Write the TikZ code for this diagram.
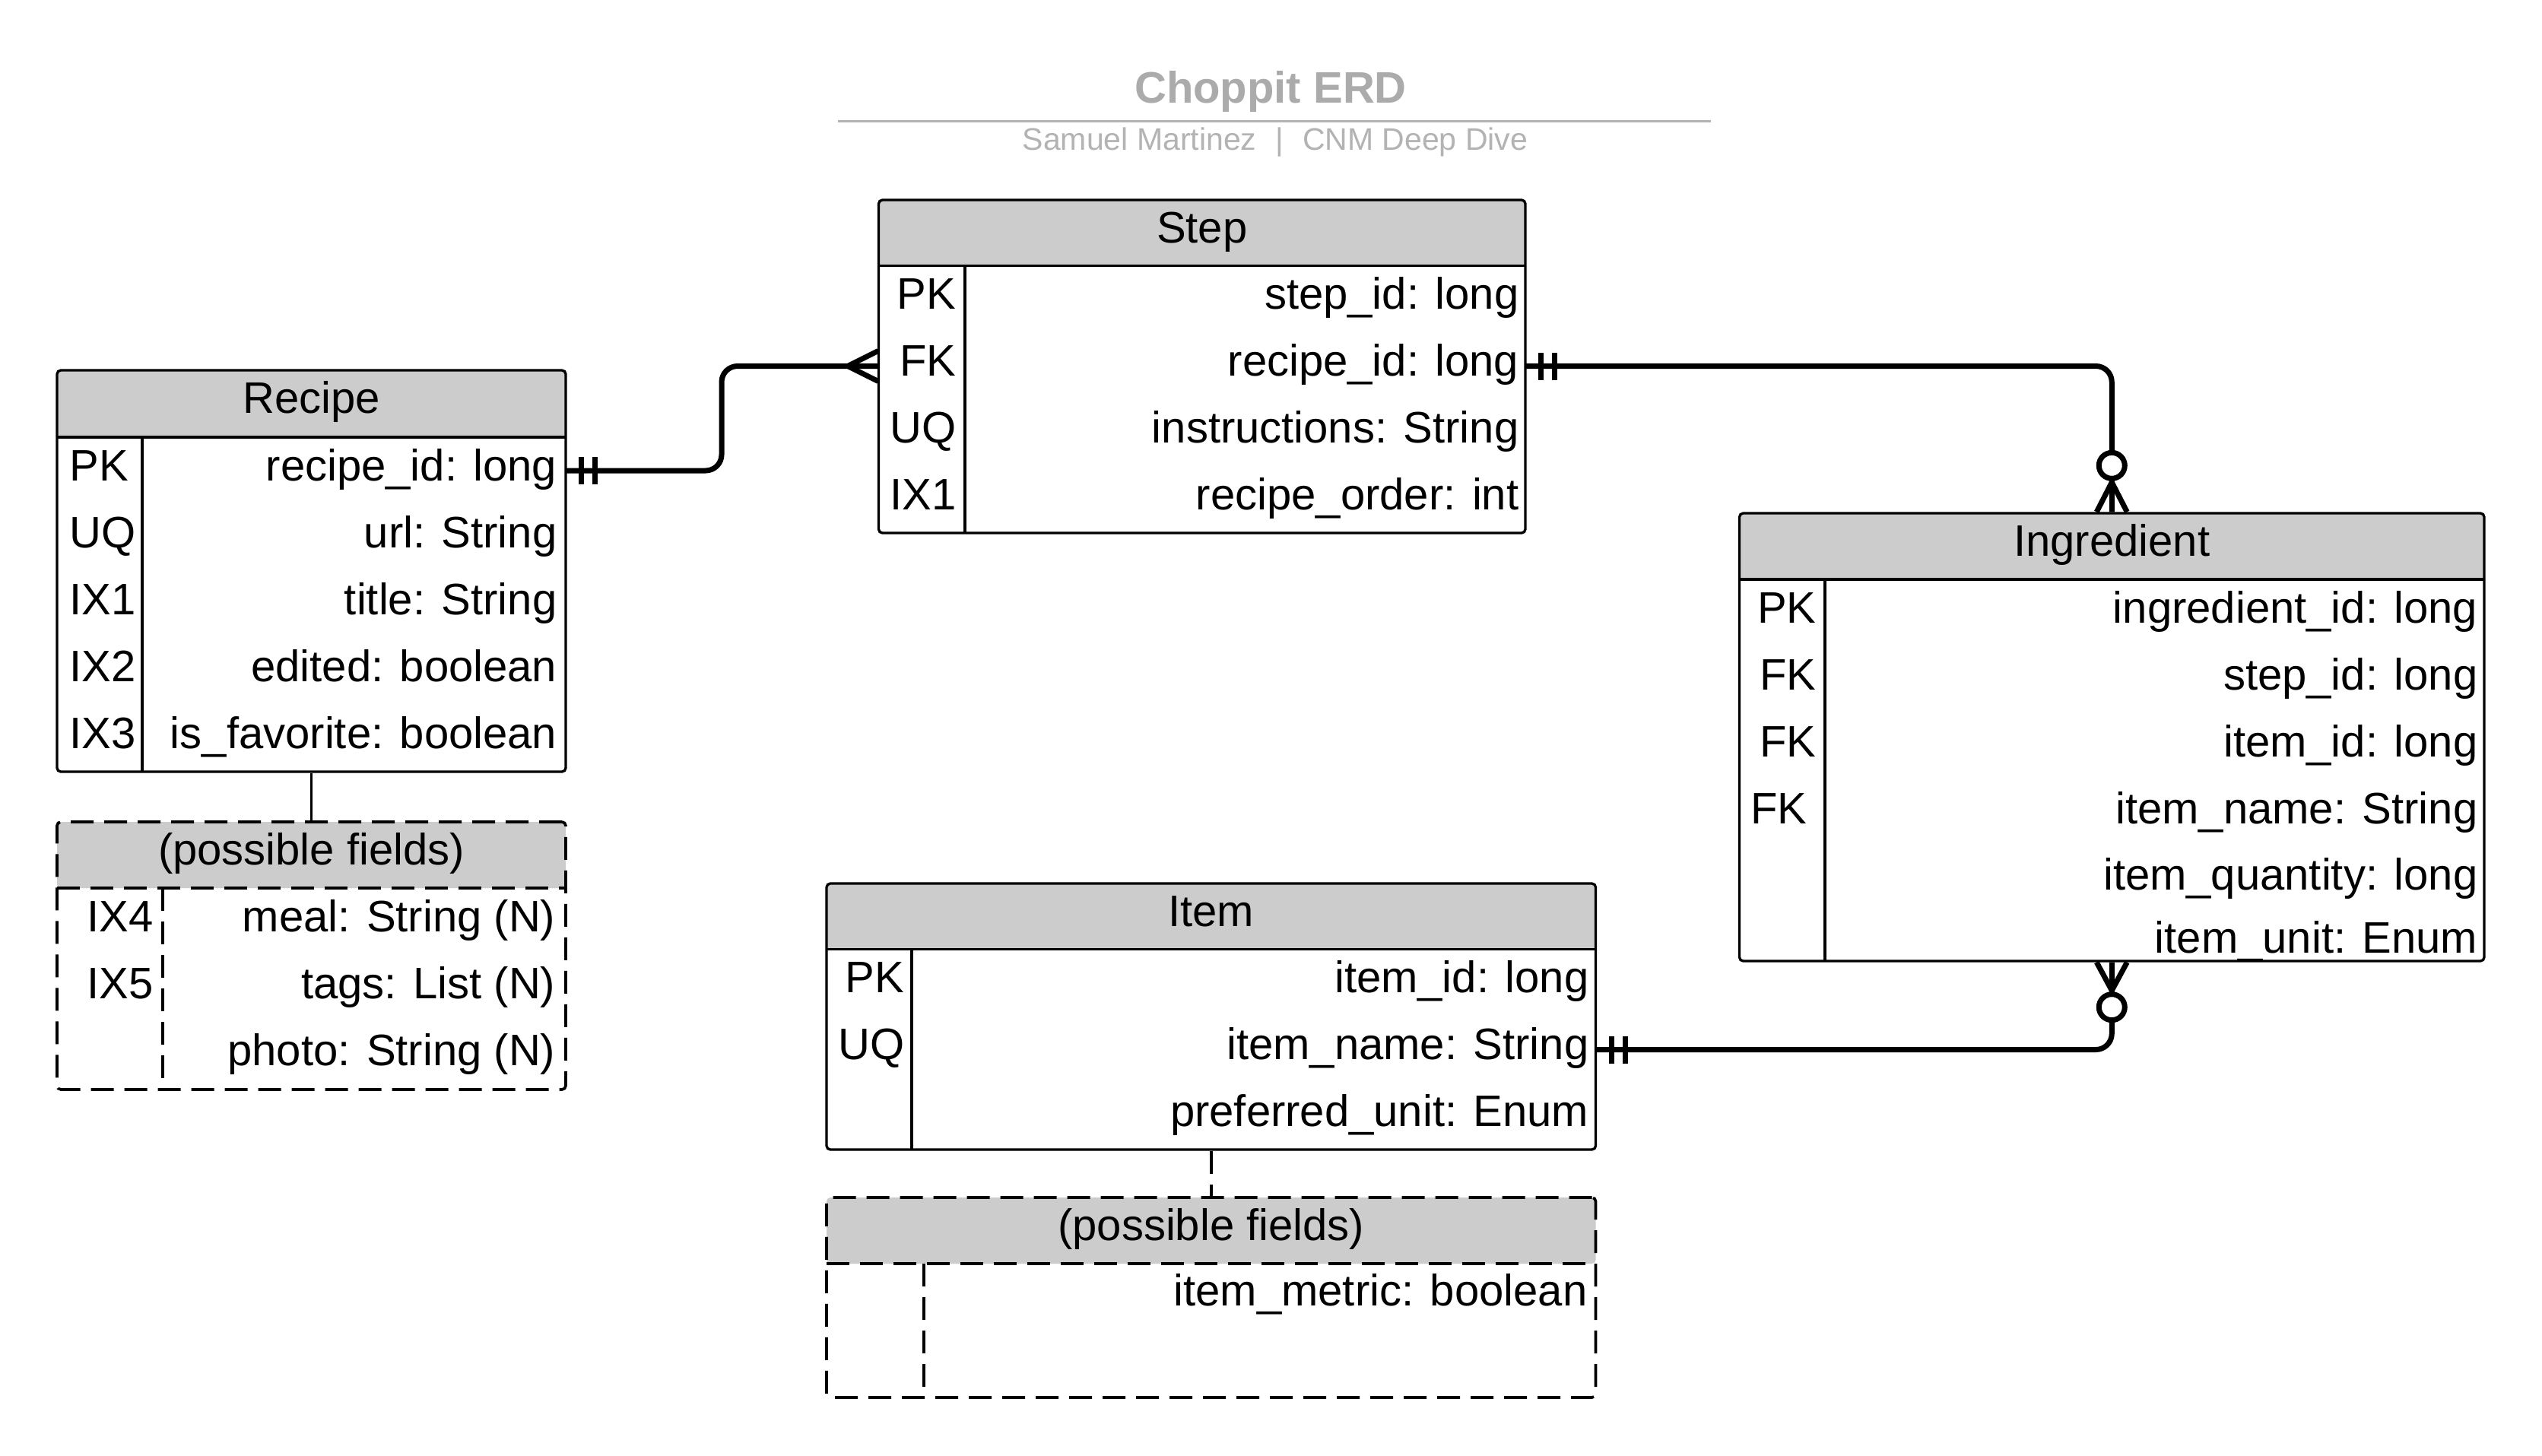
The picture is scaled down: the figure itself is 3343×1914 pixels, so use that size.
\documentclass[tikz,border=0pt]{standalone}
\usepackage{fontspec}
\setmainfont{Liberation Sans}
\usetikzlibrary{calc}
\newcommand\pxu{0.3pt}
\definecolor{hdrgray}{HTML}{CCCCCC}
\definecolor{titlegray}{HTML}{ABABAB}
\definecolor{subgray}{HTML}{B3B3B3}
\newcommand\erow[8]{%
  \node[rowbox, minimum width={(#3-#2)*\pxu}] (#1) at ({(#2+#3)/2},{#4+44}) {};
  \node[keytxt] (#1-key) at (#5,{#4+57}) {#6};
  \node[fldtxt] (#1-fld) at (#8,{#4+57}) {#7};
}
\begin{document}
\begin{tikzpicture}[x=0.3pt, y=-0.3pt,
  txt/.style={inner sep=0pt, font=\fontsize{17.4}{20}\selectfont},
  hdrtxt/.style={txt, anchor=base},
  keytxt/.style={txt, anchor=base east},
  fldtxt/.style={txt, anchor=base east},
  rowbox/.style={inner sep=0pt, minimum height={88*\pxu}},
  tbl/.style={draw, line width=1pt, rounded corners=1.5pt, inner sep=0pt},
  dtbl/.style={tbl, line width=1.1pt, dash pattern=on 9pt off 4.2pt},
  boxline/.style={line width=1pt},
  dline/.style={line width=1.1pt, dash pattern=on 9pt off 4.2pt},
  hdrfill/.style={fill=hdrgray, rounded corners=1.5pt},
  conn/.style={line width=2.1pt, rounded corners=6.3pt},
  erdmark/.style={line width=2.1pt},
  ring/.style={line width=2.1pt, fill=white},
  titletxt/.style={inner sep=0pt, anchor=base, text=titlegray, font=\fontsize{17.4}{20}\selectfont\bfseries},
  subtxt/.style={inner sep=0pt, anchor=base, text=subgray, font=\fontsize{12.3}{14}\selectfont},
  titleline/.style={draw=subgray, line width=0.9pt}
]
\fill[white] (0,0) rectangle (3343,1914);
\useasboundingbox (0,0) rectangle (3343,1914);

% ---------- title ----------
\node[titletxt] (title) at (1671,136) {Choppit ERD};
\draw[titleline] (1102,160) -- (2250,160);
\node[subtxt] (subtitle) at (1677,198) {Samuel Martinez\hspace{7.5pt}|\hspace{7.5pt}CNM Deep Dive};

% ---------- Recipe ----------
\fill[hdrfill] (75,487) rectangle (744,575);
\node[tbl, minimum width={669*\pxu}, minimum height={528*\pxu}] (recipe) at (409.5,751) {};
\draw[boxline] (75,575) -- (744,575);
\draw[boxline] (187,575) -- (187,1015);
\node[hdrtxt] (recipe-name) at (409.5,543) {Recipe};
\begin{scope}[keytxt/.append style={anchor=base west}]
\erow{recipe-pk}{75}{744}{575}{91}{PK}{recipe\_id: long}{733}
\erow{recipe-url}{75}{744}{663}{91}{UQ}{url: String}{733}
\erow{recipe-title}{75}{744}{751}{91}{IX1}{title: String}{733}
\erow{recipe-edited}{75}{744}{839}{91}{IX2}{edited: boolean}{733}
\erow{recipe-fav}{75}{744}{927}{91}{IX3}{is\_favorite: boolean}{733}
\end{scope}

% ---------- Recipe possible fields ----------
\fill[hdrfill] (75,1081) rectangle (744,1168);
\node[dtbl, minimum width={669*\pxu}, minimum height={352*\pxu}] (recipe-extra) at (409.5,1257) {};
\draw[dline] (75,1168) -- (744,1168);
\draw[dline] (214,1168) -- (214,1433);
\node[hdrtxt] (recipe-extra-name) at (409.5,1137) {(possible fields)};
\erow{recipe-meal}{75}{744}{1168}{202}{IX4}{meal: String (N)}{731}
\erow{recipe-tags}{75}{744}{1256}{202}{IX5}{tags: List (N)}{731}
\erow{recipe-photo}{75}{744}{1344}{202}{}{photo: String (N)}{731}
\draw[boxline] (recipe.south) -- (recipe-extra.north);

% ---------- Step ----------
\fill[hdrfill] (1155.5,263) rectangle (2006,349.5);
\node[tbl, minimum width={850.5*\pxu}, minimum height={438*\pxu}] (step) at (1580.75,482) {};
\draw[boxline] (1155.5,349.5) -- (2006,349.5);
\draw[boxline] (1269,349.5) -- (1269,701);
\node[hdrtxt] (step-name) at (1580.75,319) {Step};
\erow{step-pk}{1155.5}{2006}{349.5}{1258}{PK}{step\_id: long}{1998}
\erow{step-fk}{1155.5}{2006}{437.5}{1258}{FK}{recipe\_id: long}{1998}
\erow{step-uq}{1155.5}{2006}{525.5}{1258}{UQ}{instructions: String}{1998}
\erow{step-ix}{1155.5}{2006}{613.5}{1258}{IX1}{recipe\_order: int}{1998}

% ---------- Ingredient ----------
\fill[hdrfill] (2287.5,675) rectangle (3267,762);
\node[tbl, minimum width={979.5*\pxu}, minimum height={589*\pxu}] (ingredient) at (2777.25,969.5) {};
\draw[boxline] (2287.5,762) -- (3267,762);
\draw[boxline] (2400,762) -- (2400,1264);
\node[hdrtxt] (ingredient-name) at (2777.25,731) {Ingredient};
\erow{ing-pk}{2287.5}{3267}{762}{2389}{PK}{ingredient\_id: long}{3259}
\erow{ing-step}{2287.5}{3267}{850}{2389}{FK}{step\_id: long}{3259}
\erow{ing-item}{2287.5}{3267}{938}{2389}{FK}{item\_id: long}{3259}
\erow{ing-name}{2287.5}{3267}{1026}{2377}{FK}{item\_name: String}{3259}
\erow{ing-qty}{2287.5}{3267}{1113}{2389}{}{item\_quantity: long}{3259}
\erow{ing-unit}{2287.5}{3267}{1196}{2389}{}{item\_unit: Enum}{3259}

% ---------- Item ----------
\fill[hdrfill] (1087,1162) rectangle (2098.5,1248.5);
\node[tbl, minimum width={1011.5*\pxu}, minimum height={350*\pxu}] (item) at (1592.75,1337) {};
\draw[boxline] (1087,1248.5) -- (2098.5,1248.5);
\draw[boxline] (1199,1248.5) -- (1199,1512);
\node[hdrtxt] (item-name) at (1592.75,1218) {Item};
\erow{item-pk}{1087}{2098.5}{1248.5}{1190}{PK}{item\_id: long}{2090}
\erow{item-uq}{1087}{2098.5}{1336.5}{1190}{UQ}{item\_name: String}{2090}
\erow{item-unit}{1087}{2098.5}{1424.5}{1190}{}{preferred\_unit: Enum}{2090}

% ---------- Item possible fields ----------
\fill[hdrfill] (1087,1575) rectangle (2098.5,1662);
\node[dtbl, minimum width={1011.5*\pxu}, minimum height={263*\pxu}] (item-extra) at (1592.75,1706.5) {};
\draw[dline] (1087,1662) -- (2098.5,1662);
\draw[dline] (1215,1662) -- (1215,1838);
\node[hdrtxt] (item-extra-name) at (1592.75,1631) {(possible fields)};
\erow{item-metric}{1087}{2098.5}{1660}{1200}{}{item\_metric: boolean}{2088}
\draw[dline] (item.south) -- (item-extra.north);

% ---------- connectors ----------
\coordinate (bend1) at (949,550);
\draw[conn] (recipe-pk.east) -| (bend1) |- (step-fk.west);
\draw[conn] (step-fk.east) -| (ingredient.north);
\draw[conn] (item-uq.east) -| (ingredient.south);

% one-and-only-one bars
\foreach \a in {recipe-pk.east, step-fk.east, item-uq.east}{
  \draw[erdmark] ([shift={(20,-18)}]\a) -- ([shift={(20,18)}]\a);
  \draw[erdmark] ([shift={(38,-18)}]\a) -- ([shift={(38,18)}]\a);
}
% many at Step
\draw[erdmark] ([shift={(0,-20)}]step-fk.west) -- ([shift={(-40,0)}]step-fk.west) -- ([shift={(0,20)}]step-fk.west);
% zero-or-many at Ingredient top
\draw[erdmark] ([shift={(-20,0)}]ingredient.north) -- ([shift={(0,-39)}]ingredient.north) -- ([shift={(20,0)}]ingredient.north);
\draw[ring] ([shift={(0,-61)}]ingredient.north) circle[radius=5.1pt];
% zero-or-many at Ingredient bottom
\draw[erdmark] ([shift={(-20,0)}]ingredient.south) -- ([shift={(0,37)}]ingredient.south) -- ([shift={(20,0)}]ingredient.south);
\draw[ring] ([shift={(0,59)}]ingredient.south) circle[radius=5.1pt];
\end{tikzpicture}
\end{document}
